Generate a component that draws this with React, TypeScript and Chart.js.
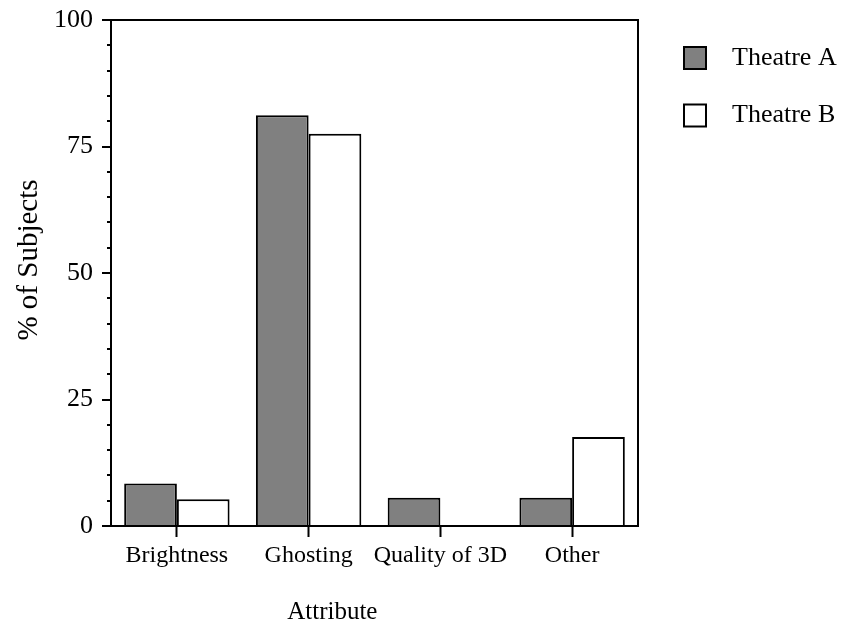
import React, { useEffect, useRef } from "react";
import { Chart, registerables } from "chart.js";

Chart.register(...registerables);

const categories = ["Brightness", "Ghosting", "Quality of 3D", "Other"];
const theatreA = [8.4, 81.2, 5.6, 5.6];
const theatreB = [5.3, 77.5, 0, 17.6];
const seriesLabels = ["Theatre A", "Theatre B"];
const yMajorTicks = [0, 25, 50, 75, 100];

const FONT = "'Liberation Serif', 'Times New Roman', serif";

const decorPlugin = {
  id: "decor",
  afterDraw(chart: any) {
    const ctx = chart.ctx;
    const area = chart.chartArea;
    const y = chart.scales.y;
    ctx.save();
    ctx.strokeStyle = "#000";
    ctx.lineWidth = 2;
    // frame
    ctx.strokeRect(area.left, area.top, area.right - area.left, area.bottom - area.top);
    // y ticks (major + minor)
    for (let v = y.min; v <= y.max; v += 5) {
      const py = Math.round(y.getPixelForValue(v));
      const len = yMajorTicks.includes(v) ? 9 : 4;
      ctx.beginPath();
      ctx.moveTo(area.left - len, py);
      ctx.lineTo(area.left, py);
      ctx.stroke();
    }
    // axis titles
    ctx.fillStyle = "#000";
    ctx.font = `25px ${FONT}`;
    ctx.textAlign = "center";
    ctx.textBaseline = "alphabetic";
    ctx.fillText("Attribute", area.left + (area.right - area.left) * 0.42, 619);
    ctx.save();
    ctx.translate(29, 260);
    ctx.rotate(-Math.PI / 2);
    ctx.font = `29px ${FONT}`;
    ctx.textBaseline = "middle";
    ctx.fillText("% of Subjects", 0, 0);
    ctx.restore();
    // legend
    const ds = chart.data.datasets;
    ctx.font = `26px ${FONT}`;
    ctx.textAlign = "left";
    ctx.textBaseline = "middle";
    ds.forEach((d: any, i: number) => {
      const cy = 58 + i * 57.5;
      ctx.fillStyle = d.backgroundColor;
      ctx.fillRect(684, cy - 11, 22, 22);
      ctx.strokeStyle = "#000";
      ctx.lineWidth = 2;
      ctx.strokeRect(684, cy - 11, 22, 22);
      ctx.fillStyle = "#000";
      ctx.fillText(d.label, 732, cy);
    });
    ctx.restore();
  },
};

export default function App() {
  const ref = useRef<HTMLCanvasElement | null>(null);
  useEffect(() => {
    if (!ref.current) return;
    const chart = new Chart(ref.current, {
      type: "bar",
      data: {
        labels: categories,
        datasets: [
          {
            label: seriesLabels[0],
            data: theatreA,
            backgroundColor: "#808080",
            borderColor: "#000",
            borderWidth: 2,
            categoryPercentage: 0.8,
            barPercentage: 1.0,
          },
          {
            label: seriesLabels[1],
            data: theatreB,
            backgroundColor: "#ffffff",
            borderColor: "#000",
            borderWidth: 2,
            categoryPercentage: 0.8,
            barPercentage: 1.0,
          },
        ],
      },
      options: {
        animation: false,
        responsive: false,
        maintainAspectRatio: false,
        layout: { padding: { left: 0, top: 20, right: 208, bottom: 0 } },
        plugins: {
          legend: { display: false },
          tooltip: { enabled: false },
          title: { display: false },
        },
        scales: {
          x: {
            type: "category",
            offset: true,
            border: { display: false },
            grid: {
              offset: false,
              drawOnChartArea: false,
              drawTicks: true,
              tickLength: 11,
              tickColor: "#000",
              tickWidth: 2,
              color: "#000",
            },
            ticks: {
              color: "#000",
              font: { family: FONT, size: 24 },
              padding: 4,
              maxRotation: 0,
              autoSkip: false,
            },
            afterFit: (scale: any) => {
              scale.height = 98;
              scale.paddingLeft = 0;
              scale.paddingRight = 0;
            },
          },
          y: {
            min: 0,
            max: 100,
            border: { display: false },
            grid: { display: true, drawOnChartArea: false, drawTicks: false },
            ticks: {
              stepSize: 5,
              autoSkip: false,
              color: "#000",
              font: { family: FONT, size: 26 },
              padding: 18,
              callback: (v: any) => (yMajorTicks.includes(Number(v)) ? String(v) : ""),
            },
            afterFit: (scale: any) => {
              scale.width = 111;
              scale.paddingTop = 0;
              scale.paddingBottom = 0;
            },
          },
        },
      },
      plugins: [decorPlugin],
    });
    return () => chart.destroy();
  }, []);
  return (
    <div style={{ position: "absolute", left: 0, top: 0, width: 846, height: 624, background: "#fff" }}>
      <canvas ref={ref} width={846} height={624} style={{ width: 846, height: 624 }} />
    </div>
  );
}
